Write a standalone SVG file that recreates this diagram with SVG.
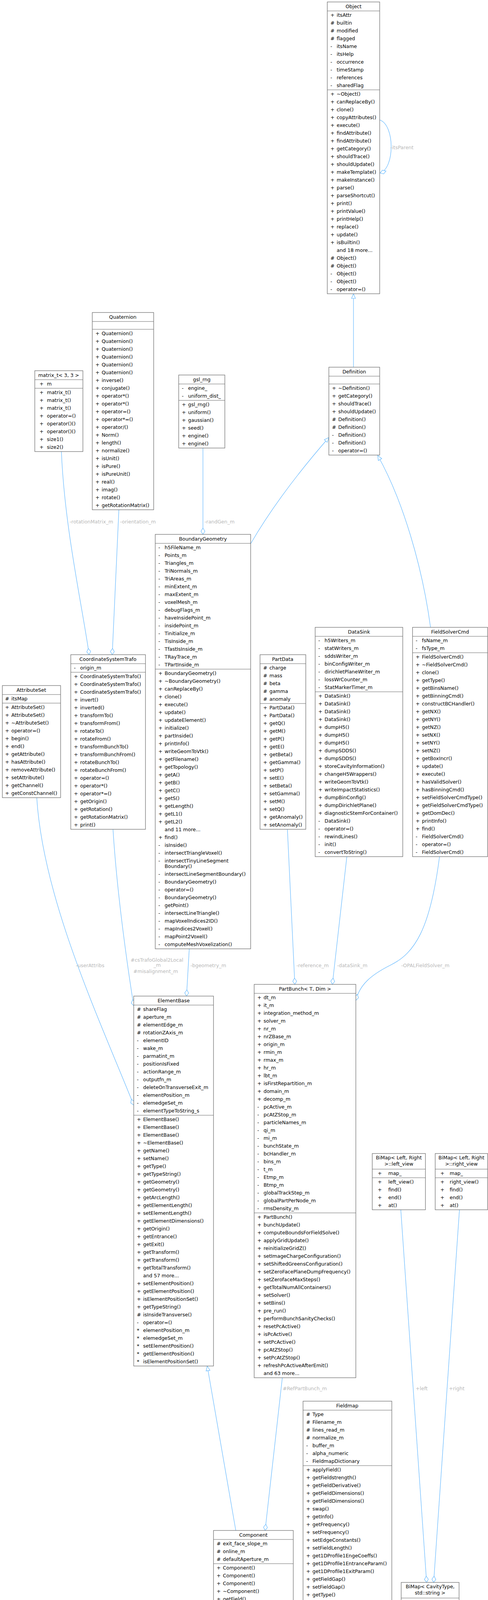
<svg xmlns="http://www.w3.org/2000/svg" width="1248" height="6941" viewBox="0 0 1248 6941">
<style>
.b{fill:#fff;stroke:#666;stroke-width:1.2}
.g{fill:#999;stroke:#666;stroke-width:1.2}
.s{stroke:#666;stroke-width:1}
text{font-family:"DejaVu Sans","Liberation Sans",sans-serif;font-size:12.5px;fill:#000}
.c{text-anchor:middle}
.l{fill:#b8b8b8}
.e{fill:none;stroke:#63b8ff;stroke-width:1.2}
</style>
<defs>
<marker id="tri" markerUnits="userSpaceOnUse" markerWidth="14" markerHeight="12" refX="13" refY="6" orient="auto"><path d="M1,1 L13,6 L1,11 z" fill="#fff" stroke="#63b8ff" stroke-width="1.2"/></marker>
<marker id="dia" markerUnits="userSpaceOnUse" markerWidth="18" markerHeight="12" refX="17" refY="6" orient="auto"><path d="M1,6 L9,1 L17,6 L9,11 z" fill="#fff" stroke="#63b8ff" stroke-width="1.2"/></marker>
</defs>
<g id="connectors">
<path class="e" d="M971,307 C1010,320 1010,430 972,443" marker-end="url(#dia)"/>
<path class="e" d="M904,940 L904,752" marker-end="url(#tri)"/>
<path class="e" d="M641,1392 C700,1290 780,1190 841,1120" marker-end="url(#tri)"/>
<path class="e" d="M1101,1606 C1080,1450 1030,1280 966,1166" marker-end="url(#tri)"/>
<path class="e" d="M157,1156 C165,1350 210,1550 228,1676" marker-end="url(#dia)"/>
<path class="e" d="M304,1305 L287,1676" marker-end="url(#dia)"/>
<path class="e" d="M519,1147 L519,1368" marker-end="url(#dia)"/>
<path class="e" d="M94,2042 C110,2300 250,2600 342,2829" marker-end="url(#dia)"/>
<path class="e" d="M289,2123 C300,2300 330,2500 342,2575" marker-end="url(#dia)"/>
<path class="e" d="M484,2429 L477,2550" marker-end="url(#dia)"/>
<path class="e" d="M735,2123 L754,2520" marker-end="url(#dia)"/>
<path class="e" d="M887,2193 L850,2520" marker-end="url(#dia)"/>
<path class="e" d="M1124,2193 C1100,2380 1060,2440 1000,2470 C950,2495 920,2520 910,2561" marker-end="url(#dia)"/>
<path class="e" d="M722,3527 L678,3918" marker-end="url(#dia)"/>
<path class="e" d="M603,3918 L530,3497" marker-end="url(#tri)"/>
<path class="e" d="M1025,3097 L1091,4051" marker-end="url(#dia)"/>
<path class="e" d="M1175,3097 L1109,4051" marker-end="url(#dia)"/>
<path class="e" d="M888,4754 L888,4816" marker-end="url(#dia)"/>
<path class="e" d="M1083,4295 L968,4991" marker-end="url(#dia)"/>
<path class="e" d="M810,4989 L700,4425" marker-end="url(#tri)"/>
<path class="e" d="M886,6011 L886,5963" marker-end="url(#tri)"/>
<text class="l" x="998" y="382">-itsParent</text>
<text class="l" x="178" y="1340">-rotationMatrix_m</text>
<text class="l" x="307" y="1340">-orientation_m</text>
<text class="l" x="523" y="1340">-randGen_m</text>
<text class="l" x="194" y="2476">-userAttribs</text>
<text class="l" x="334" y="2462">#csTrafoGlobal2Local</text>
<text class="l c" x="402" y="2475">_m</text>
<text class="l" x="341" y="2491">#misalignment_m</text>
<text class="l" x="487" y="2476">-bgeometry_m</text>
<text class="l" x="758" y="2476">-reference_m</text>
<text class="l" x="862" y="2476">-dataSink_m</text>
<text class="l" x="1026" y="2476">-OPALFieldSolver_m</text>
<text class="l" x="723" y="3559">#RefPartBunch_m</text>
<text class="l" x="1063" y="3559">+left</text>
<text class="l" x="1148" y="3559">+right</text>
<text class="l" x="893" y="4788">#fieldmap_m</text>
<text class="l" x="1010" y="4788">-bmCavityTypeString_s</text>
</g>

<g id="Object">
<rect class="b" x="837" y="5" width="134" height="747"/>
<line class="s" x1="837" y1="28" x2="971" y2="28"/><line class="s" x1="837" y1="230" x2="971" y2="230"/>
<text class="c" x="904" y="21">Object</text>
<text y="43"><tspan x="845">+</tspan><tspan x="845" dy="20">#</tspan><tspan x="845" dy="20">#</tspan><tspan x="845" dy="20">#</tspan><tspan x="845" dy="20">-</tspan><tspan x="845" dy="20">-</tspan><tspan x="845" dy="20">-</tspan><tspan x="845" dy="20">-</tspan><tspan x="845" dy="20">-</tspan><tspan x="845" dy="20">-</tspan></text>
<text y="43"><tspan x="861">itsAttr</tspan><tspan x="861" dy="20">builtin</tspan><tspan x="861" dy="20">modified</tspan><tspan x="861" dy="20">flagged</tspan><tspan x="861" dy="20">itsName</tspan><tspan x="861" dy="20">itsHelp</tspan><tspan x="861" dy="20">occurrence</tspan><tspan x="861" dy="20">timeStamp</tspan><tspan x="861" dy="20">references</tspan><tspan x="861" dy="20">sharedFlag</tspan></text>
<text y="245"><tspan x="845">+</tspan><tspan x="845" dy="20">+</tspan><tspan x="845" dy="20">+</tspan><tspan x="845" dy="20">+</tspan><tspan x="845" dy="20">+</tspan><tspan x="845" dy="20">+</tspan><tspan x="845" dy="20">+</tspan><tspan x="845" dy="20">+</tspan><tspan x="845" dy="20">+</tspan><tspan x="845" dy="20">+</tspan><tspan x="845" dy="20">+</tspan><tspan x="845" dy="20">+</tspan><tspan x="845" dy="20">+</tspan><tspan x="845" dy="20">+</tspan><tspan x="845" dy="20">+</tspan><tspan x="845" dy="20">+</tspan><tspan x="845" dy="20">+</tspan><tspan x="845" dy="20">+</tspan><tspan x="845" dy="20">+</tspan><tspan x="845" dy="20">+</tspan><tspan x="845" dy="40">#</tspan><tspan x="845" dy="20">#</tspan><tspan x="845" dy="20">-</tspan><tspan x="845" dy="20">-</tspan><tspan x="845" dy="20">-</tspan></text>
<text y="245"><tspan x="861">~Object()</tspan><tspan x="861" dy="20">canReplaceBy()</tspan><tspan x="861" dy="20">clone()</tspan><tspan x="861" dy="20">copyAttributes()</tspan><tspan x="861" dy="20">execute()</tspan><tspan x="861" dy="20">findAttribute()</tspan><tspan x="861" dy="20">findAttribute()</tspan><tspan x="861" dy="20">getCategory()</tspan><tspan x="861" dy="20">shouldTrace()</tspan><tspan x="861" dy="20">shouldUpdate()</tspan><tspan x="861" dy="20">makeTemplate()</tspan><tspan x="861" dy="20">makeInstance()</tspan><tspan x="861" dy="20">parse()</tspan><tspan x="861" dy="20">parseShortcut()</tspan><tspan x="861" dy="20">print()</tspan><tspan x="861" dy="20">printValue()</tspan><tspan x="861" dy="20">printHelp()</tspan><tspan x="861" dy="20">replace()</tspan><tspan x="861" dy="20">update()</tspan><tspan x="861" dy="20">isBuiltin()</tspan><tspan x="861" dy="20">and 18 more...</tspan><tspan x="861" dy="20">Object()</tspan><tspan x="861" dy="20">Object()</tspan><tspan x="861" dy="20">Object()</tspan><tspan x="861" dy="20">Object()</tspan><tspan x="861" dy="20">operator=()</tspan></text>
</g>

<g id="Definition">
<rect class="b" x="841" y="940" width="130" height="225"/>
<line class="s" x1="841" y1="963" x2="971" y2="963"/><line class="s" x1="841" y1="983" x2="971" y2="983"/>
<text class="c" x="906" y="956">Definition</text>
<text y="998"><tspan x="849">+</tspan><tspan x="849" dy="20">+</tspan><tspan x="849" dy="20">+</tspan><tspan x="849" dy="20">+</tspan><tspan x="849" dy="20">#</tspan><tspan x="849" dy="20">#</tspan><tspan x="849" dy="20">-</tspan><tspan x="849" dy="20">-</tspan><tspan x="849" dy="20">-</tspan></text>
<text y="998"><tspan x="865">~Definition()</tspan><tspan x="865" dy="20">getCategory()</tspan><tspan x="865" dy="20">shouldTrace()</tspan><tspan x="865" dy="20">shouldUpdate()</tspan><tspan x="865" dy="20">Definition()</tspan><tspan x="865" dy="20">Definition()</tspan><tspan x="865" dy="20">Definition()</tspan><tspan x="865" dy="20">Definition()</tspan><tspan x="865" dy="20">operator=()</tspan></text>
</g>

<g id="matrix_t">
<rect class="b" x="89" y="949" width="123" height="207"/>
<line class="s" x1="89" y1="972" x2="212" y2="972"/><line class="s" x1="89" y1="994" x2="212" y2="994"/>
<text class="c" x="150" y="965">matrix_t&lt; 3, 3 &gt;</text>
<text x="101" y="987">+</text><text x="120" y="987">m</text>
<text y="1009"><tspan x="101">+</tspan><tspan x="101" dy="20">+</tspan><tspan x="101" dy="20">+</tspan><tspan x="101" dy="20">+</tspan><tspan x="101" dy="20">+</tspan><tspan x="101" dy="20">+</tspan><tspan x="101" dy="20">+</tspan><tspan x="101" dy="20">+</tspan></text>
<text y="1009"><tspan x="120">matrix_t()</tspan><tspan x="120" dy="20">matrix_t()</tspan><tspan x="120" dy="20">matrix_t()</tspan><tspan x="120" dy="20">operator=()</tspan><tspan x="120" dy="20">operator()()</tspan><tspan x="120" dy="20">operator()()</tspan><tspan x="120" dy="20">size1()</tspan><tspan x="120" dy="20">size2()</tspan></text>
</g>

<g id="Quaternion">
<rect class="b" x="236" y="800" width="157" height="505"/>
<line class="s" x1="236" y1="823" x2="393" y2="823"/><line class="s" x1="236" y1="843" x2="393" y2="843"/>
<text class="c" x="314" y="816">Quaternion</text>
<text y="858"><tspan x="244">+</tspan><tspan x="244" dy="20">+</tspan><tspan x="244" dy="20">+</tspan><tspan x="244" dy="20">+</tspan><tspan x="244" dy="20">+</tspan><tspan x="244" dy="20">+</tspan><tspan x="244" dy="20">+</tspan><tspan x="244" dy="20">+</tspan><tspan x="244" dy="20">+</tspan><tspan x="244" dy="20">+</tspan><tspan x="244" dy="20">+</tspan><tspan x="244" dy="20">+</tspan><tspan x="244" dy="20">+</tspan><tspan x="244" dy="20">+</tspan><tspan x="244" dy="20">+</tspan><tspan x="244" dy="20">+</tspan><tspan x="244" dy="20">+</tspan><tspan x="244" dy="20">+</tspan><tspan x="244" dy="20">+</tspan><tspan x="244" dy="20">+</tspan><tspan x="244" dy="20">+</tspan><tspan x="244" dy="20">+</tspan><tspan x="244" dy="20">+</tspan></text>
<text y="858"><tspan x="260">Quaternion()</tspan><tspan x="260" dy="20">Quaternion()</tspan><tspan x="260" dy="20">Quaternion()</tspan><tspan x="260" dy="20">Quaternion()</tspan><tspan x="260" dy="20">Quaternion()</tspan><tspan x="260" dy="20">Quaternion()</tspan><tspan x="260" dy="20">inverse()</tspan><tspan x="260" dy="20">conjugate()</tspan><tspan x="260" dy="20">operator*()</tspan><tspan x="260" dy="20">operator*()</tspan><tspan x="260" dy="20">operator=()</tspan><tspan x="260" dy="20">operator*=()</tspan><tspan x="260" dy="20">operator/()</tspan><tspan x="260" dy="20">Norm()</tspan><tspan x="260" dy="20">length()</tspan><tspan x="260" dy="20">normalize()</tspan><tspan x="260" dy="20">isUnit()</tspan><tspan x="260" dy="20">isPure()</tspan><tspan x="260" dy="20">isPureUnit()</tspan><tspan x="260" dy="20">real()</tspan><tspan x="260" dy="20">imag()</tspan><tspan x="260" dy="20">rotate()</tspan><tspan x="260" dy="20">getRotationMatrix()</tspan></text>
</g>

<g id="gsl_rng">
<rect class="b" x="457" y="960" width="118" height="187"/>
<line class="s" x1="457" y1="983" x2="575" y2="983"/><line class="s" x1="457" y1="1025" x2="575" y2="1025"/>
<text class="c" x="516" y="976">gsl_rng</text>
<text y="998"><tspan x="465">-</tspan><tspan x="465" dy="20">-</tspan></text>
<text y="998"><tspan x="481">engine_</tspan><tspan x="481" dy="20">uniform_dist_</tspan></text>
<text y="1040"><tspan x="465">+</tspan><tspan x="465" dy="20">+</tspan><tspan x="465" dy="20">+</tspan><tspan x="465" dy="20">+</tspan><tspan x="465" dy="20">+</tspan><tspan x="465" dy="20">+</tspan></text>
<text y="1040"><tspan x="481">gsl_rng()</tspan><tspan x="481" dy="20">uniform()</tspan><tspan x="481" dy="20">gaussian()</tspan><tspan x="481" dy="20">seed()</tspan><tspan x="481" dy="20">engine()</tspan><tspan x="481" dy="20">engine()</tspan></text>
</g>

<g id="BoundaryGeometry">
<rect class="b" x="397" y="1368" width="244" height="1061"/>
<line class="s" x1="397" y1="1391" x2="641" y2="1391"/><line class="s" x1="397" y1="1713" x2="641" y2="1713"/>
<text class="c" x="519" y="1384">BoundaryGeometry</text>
<text y="1406"><tspan x="405">-</tspan><tspan x="405" dy="20">-</tspan><tspan x="405" dy="20">-</tspan><tspan x="405" dy="20">-</tspan><tspan x="405" dy="20">-</tspan><tspan x="405" dy="20">-</tspan><tspan x="405" dy="20">-</tspan><tspan x="405" dy="20">-</tspan><tspan x="405" dy="20">-</tspan><tspan x="405" dy="20">-</tspan><tspan x="405" dy="20">-</tspan><tspan x="405" dy="20">-</tspan><tspan x="405" dy="20">-</tspan><tspan x="405" dy="20">-</tspan><tspan x="405" dy="20">-</tspan><tspan x="405" dy="20">-</tspan></text>
<text y="1406"><tspan x="421">h5FileName_m</tspan><tspan x="421" dy="20">Points_m</tspan><tspan x="421" dy="20">Triangles_m</tspan><tspan x="421" dy="20">TriNormals_m</tspan><tspan x="421" dy="20">TriAreas_m</tspan><tspan x="421" dy="20">minExtent_m</tspan><tspan x="421" dy="20">maxExtent_m</tspan><tspan x="421" dy="20">voxelMesh_m</tspan><tspan x="421" dy="20">debugFlags_m</tspan><tspan x="421" dy="20">haveInsidePoint_m</tspan><tspan x="421" dy="20">insidePoint_m</tspan><tspan x="421" dy="20">Tinitialize_m</tspan><tspan x="421" dy="20">TisInside_m</tspan><tspan x="421" dy="20">TfastIsInside_m</tspan><tspan x="421" dy="20">TRayTrace_m</tspan><tspan x="421" dy="20">TPartInside_m</tspan></text>
<text y="1728"><tspan x="405">+</tspan><tspan x="405" dy="20">+</tspan><tspan x="405" dy="20">+</tspan><tspan x="405" dy="20">+</tspan><tspan x="405" dy="20">+</tspan><tspan x="405" dy="20">+</tspan><tspan x="405" dy="20">+</tspan><tspan x="405" dy="20">+</tspan><tspan x="405" dy="20">+</tspan><tspan x="405" dy="20">+</tspan><tspan x="405" dy="20">+</tspan><tspan x="405" dy="20">+</tspan><tspan x="405" dy="20">+</tspan><tspan x="405" dy="20">+</tspan><tspan x="405" dy="20">+</tspan><tspan x="405" dy="20">+</tspan><tspan x="405" dy="20">+</tspan><tspan x="405" dy="20">+</tspan><tspan x="405" dy="20">+</tspan><tspan x="405" dy="20">+</tspan><tspan x="405" dy="40">+</tspan><tspan x="405" dy="20">-</tspan><tspan x="405" dy="20">-</tspan><tspan x="405" dy="20">-</tspan><tspan x="405" dy="34">-</tspan><tspan x="405" dy="20">-</tspan><tspan x="405" dy="20">-</tspan><tspan x="405" dy="20">-</tspan><tspan x="405" dy="20">-</tspan><tspan x="405" dy="20">-</tspan><tspan x="405" dy="20">-</tspan><tspan x="405" dy="20">-</tspan><tspan x="405" dy="20">-</tspan><tspan x="405" dy="20">-</tspan></text>
<text y="1728"><tspan x="421">BoundaryGeometry()</tspan><tspan x="421" dy="20">~BoundaryGeometry()</tspan><tspan x="421" dy="20">canReplaceBy()</tspan><tspan x="421" dy="20">clone()</tspan><tspan x="421" dy="20">execute()</tspan><tspan x="421" dy="20">update()</tspan><tspan x="421" dy="20">updateElement()</tspan><tspan x="421" dy="20">initialize()</tspan><tspan x="421" dy="20">partInside()</tspan><tspan x="421" dy="20">printInfo()</tspan><tspan x="421" dy="20">writeGeomToVtk()</tspan><tspan x="421" dy="20">getFilename()</tspan><tspan x="421" dy="20">getTopology()</tspan><tspan x="421" dy="20">getA()</tspan><tspan x="421" dy="20">getB()</tspan><tspan x="421" dy="20">getC()</tspan><tspan x="421" dy="20">getS()</tspan><tspan x="421" dy="20">getLength()</tspan><tspan x="421" dy="20">getL1()</tspan><tspan x="421" dy="20">getL2()</tspan><tspan x="421" dy="20">and 11 more...</tspan><tspan x="421" dy="20">find()</tspan><tspan x="421" dy="20">isInside()</tspan><tspan x="421" dy="20">intersectTriangleVoxel()</tspan><tspan x="421" dy="20">intersectTinyLineSegment</tspan><tspan x="421" dy="14">Boundary()</tspan><tspan x="421" dy="20">intersectLineSegmentBoundary()</tspan><tspan x="421" dy="20">BoundaryGeometry()</tspan><tspan x="421" dy="20">operator=()</tspan><tspan x="421" dy="20">BoundaryGeometry()</tspan><tspan x="421" dy="20">getPoint()</tspan><tspan x="421" dy="20">intersectLineTriangle()</tspan><tspan x="421" dy="20">mapVoxelIndices2ID()</tspan><tspan x="421" dy="20">mapIndices2Voxel()</tspan><tspan x="421" dy="20">mapPoint2Voxel()</tspan><tspan x="421" dy="20">computeMeshVoxelization()</tspan></text>
</g>

<g id="CoordinateSystemTrafo">
<rect class="b" x="181" y="1676" width="191" height="447"/>
<line class="s" x1="181" y1="1699" x2="372" y2="1699"/><line class="s" x1="181" y1="1721" x2="372" y2="1721"/>
<text class="c" x="276" y="1692">CoordinateSystemTrafo</text>
<text x="189" y="1714">-</text><text x="205" y="1714">origin_m</text>
<text y="1736"><tspan x="189">+</tspan><tspan x="189" dy="20">+</tspan><tspan x="189" dy="20">+</tspan><tspan x="189" dy="20">+</tspan><tspan x="189" dy="20">+</tspan><tspan x="189" dy="20">+</tspan><tspan x="189" dy="20">+</tspan><tspan x="189" dy="20">+</tspan><tspan x="189" dy="20">+</tspan><tspan x="189" dy="20">+</tspan><tspan x="189" dy="20">+</tspan><tspan x="189" dy="20">+</tspan><tspan x="189" dy="20">+</tspan><tspan x="189" dy="20">+</tspan><tspan x="189" dy="20">+</tspan><tspan x="189" dy="20">+</tspan><tspan x="189" dy="20">+</tspan><tspan x="189" dy="20">+</tspan><tspan x="189" dy="20">+</tspan><tspan x="189" dy="20">+</tspan></text>
<text y="1736"><tspan x="205">CoordinateSystemTrafo()</tspan><tspan x="205" dy="20">CoordinateSystemTrafo()</tspan><tspan x="205" dy="20">CoordinateSystemTrafo()</tspan><tspan x="205" dy="20">invert()</tspan><tspan x="205" dy="20">inverted()</tspan><tspan x="205" dy="20">transformTo()</tspan><tspan x="205" dy="20">transformFrom()</tspan><tspan x="205" dy="20">rotateTo()</tspan><tspan x="205" dy="20">rotateFrom()</tspan><tspan x="205" dy="20">transformBunchTo()</tspan><tspan x="205" dy="20">transformBunchFrom()</tspan><tspan x="205" dy="20">rotateBunchTo()</tspan><tspan x="205" dy="20">rotateBunchFrom()</tspan><tspan x="205" dy="20">operator=()</tspan><tspan x="205" dy="20">operator*()</tspan><tspan x="205" dy="20">operator*=()</tspan><tspan x="205" dy="20">getOrigin()</tspan><tspan x="205" dy="20">getRotation()</tspan><tspan x="205" dy="20">getRotationMatrix()</tspan><tspan x="205" dy="20">print()</tspan></text>
</g>

<g id="AttributeSet">
<rect class="b" x="6" y="1755" width="149" height="287"/>
<line class="s" x1="6" y1="1778" x2="155" y2="1778"/><line class="s" x1="6" y1="1800" x2="155" y2="1800"/>
<text class="c" x="80" y="1771">AttributeSet</text>
<text x="13" y="1793">#</text><text x="29" y="1793">itsMap</text>
<text y="1815"><tspan x="13">+</tspan><tspan x="13" dy="20">+</tspan><tspan x="13" dy="20">+</tspan><tspan x="13" dy="20">+</tspan><tspan x="13" dy="20">+</tspan><tspan x="13" dy="20">+</tspan><tspan x="13" dy="20">+</tspan><tspan x="13" dy="20">+</tspan><tspan x="13" dy="20">+</tspan><tspan x="13" dy="20">+</tspan><tspan x="13" dy="20">+</tspan><tspan x="13" dy="20">+</tspan></text>
<text y="1815"><tspan x="29">AttributeSet()</tspan><tspan x="29" dy="20">AttributeSet()</tspan><tspan x="29" dy="20">~AttributeSet()</tspan><tspan x="29" dy="20">operator=()</tspan><tspan x="29" dy="20">begin()</tspan><tspan x="29" dy="20">end()</tspan><tspan x="29" dy="20">getAttribute()</tspan><tspan x="29" dy="20">hasAttribute()</tspan><tspan x="29" dy="20">removeAttribute()</tspan><tspan x="29" dy="20">setAttribute()</tspan><tspan x="29" dy="20">getChannel()</tspan><tspan x="29" dy="20">getConstChannel()</tspan></text>
</g>

<g id="PartData">
<rect class="b" x="665" y="1676" width="117" height="447"/>
<line class="s" x1="665" y1="1699" x2="782" y2="1699"/><line class="s" x1="665" y1="1801" x2="782" y2="1801"/>
<text class="c" x="723" y="1692">PartData</text>
<text y="1714"><tspan x="673">#</tspan><tspan x="673" dy="20">#</tspan><tspan x="673" dy="20">#</tspan><tspan x="673" dy="20">#</tspan><tspan x="673" dy="20">#</tspan></text>
<text y="1714"><tspan x="689">charge</tspan><tspan x="689" dy="20">mass</tspan><tspan x="689" dy="20">beta</tspan><tspan x="689" dy="20">gamma</tspan><tspan x="689" dy="20">anomaly</tspan></text>
<text y="1816"><tspan x="673">+</tspan><tspan x="673" dy="20">+</tspan><tspan x="673" dy="20">+</tspan><tspan x="673" dy="20">+</tspan><tspan x="673" dy="20">+</tspan><tspan x="673" dy="20">+</tspan><tspan x="673" dy="20">+</tspan><tspan x="673" dy="20">+</tspan><tspan x="673" dy="20">+</tspan><tspan x="673" dy="20">+</tspan><tspan x="673" dy="20">+</tspan><tspan x="673" dy="20">+</tspan><tspan x="673" dy="20">+</tspan><tspan x="673" dy="20">+</tspan><tspan x="673" dy="20">+</tspan><tspan x="673" dy="20">+</tspan></text>
<text y="1816"><tspan x="689">PartData()</tspan><tspan x="689" dy="20">PartData()</tspan><tspan x="689" dy="20">getQ()</tspan><tspan x="689" dy="20">getM()</tspan><tspan x="689" dy="20">getP()</tspan><tspan x="689" dy="20">getE()</tspan><tspan x="689" dy="20">getBeta()</tspan><tspan x="689" dy="20">getGamma()</tspan><tspan x="689" dy="20">setP()</tspan><tspan x="689" dy="20">setE()</tspan><tspan x="689" dy="20">setBeta()</tspan><tspan x="689" dy="20">setGamma()</tspan><tspan x="689" dy="20">setM()</tspan><tspan x="689" dy="20">setQ()</tspan><tspan x="689" dy="20">getAnomaly()</tspan><tspan x="689" dy="20">setAnomaly()</tspan></text>
</g>

<g id="DataSink">
<rect class="b" x="806" y="1606" width="224" height="587"/>
<line class="s" x1="806" y1="1629" x2="1030" y2="1629"/><line class="s" x1="806" y1="1771" x2="1030" y2="1771"/>
<text class="c" x="918" y="1622">DataSink</text>
<text y="1644"><tspan x="814">-</tspan><tspan x="814" dy="20">-</tspan><tspan x="814" dy="20">-</tspan><tspan x="814" dy="20">-</tspan><tspan x="814" dy="20">-</tspan><tspan x="814" dy="20">-</tspan><tspan x="814" dy="20">-</tspan></text>
<text y="1644"><tspan x="830">h5Writers_m</tspan><tspan x="830" dy="20">statWriters_m</tspan><tspan x="830" dy="20">sddsWriter_m</tspan><tspan x="830" dy="20">binConfigWriter_m</tspan><tspan x="830" dy="20">dirichletPlaneWriter_m</tspan><tspan x="830" dy="20">lossWrCounter_m</tspan><tspan x="830" dy="20">StatMarkerTimer_m</tspan></text>
<text y="1786"><tspan x="814">+</tspan><tspan x="814" dy="20">+</tspan><tspan x="814" dy="20">+</tspan><tspan x="814" dy="20">+</tspan><tspan x="814" dy="20">+</tspan><tspan x="814" dy="20">+</tspan><tspan x="814" dy="20">+</tspan><tspan x="814" dy="20">+</tspan><tspan x="814" dy="20">+</tspan><tspan x="814" dy="20">+</tspan><tspan x="814" dy="20">+</tspan><tspan x="814" dy="20">+</tspan><tspan x="814" dy="20">+</tspan><tspan x="814" dy="20">+</tspan><tspan x="814" dy="20">+</tspan><tspan x="814" dy="20">+</tspan><tspan x="814" dy="20">-</tspan><tspan x="814" dy="20">-</tspan><tspan x="814" dy="20">-</tspan><tspan x="814" dy="20">-</tspan><tspan x="814" dy="20">-</tspan></text>
<text y="1786"><tspan x="830">DataSink()</tspan><tspan x="830" dy="20">DataSink()</tspan><tspan x="830" dy="20">DataSink()</tspan><tspan x="830" dy="20">DataSink()</tspan><tspan x="830" dy="20">dumpH5()</tspan><tspan x="830" dy="20">dumpH5()</tspan><tspan x="830" dy="20">dumpH5()</tspan><tspan x="830" dy="20">dumpSDDS()</tspan><tspan x="830" dy="20">dumpSDDS()</tspan><tspan x="830" dy="20">storeCavityInformation()</tspan><tspan x="830" dy="20">changeH5Wrappers()</tspan><tspan x="830" dy="20">writeGeomToVtk()</tspan><tspan x="830" dy="20">writeImpactStatistics()</tspan><tspan x="830" dy="20">dumpBinConfig()</tspan><tspan x="830" dy="20">dumpDirichletPlane()</tspan><tspan x="830" dy="20">diagnosticStemForContainer()</tspan><tspan x="830" dy="20">DataSink()</tspan><tspan x="830" dy="20">operator=()</tspan><tspan x="830" dy="20">rewindLines()</tspan><tspan x="830" dy="20">init()</tspan><tspan x="830" dy="20">convertToString()</tspan></text>
</g>

<g id="FieldSolverCmd">
<rect class="b" x="1055" y="1606" width="192" height="587"/>
<line class="s" x1="1055" y1="1629" x2="1247" y2="1629"/><line class="s" x1="1055" y1="1671" x2="1247" y2="1671"/>
<text class="c" x="1151" y="1622">FieldSolverCmd</text>
<text y="1644"><tspan x="1063">-</tspan><tspan x="1063" dy="20">-</tspan></text>
<text y="1644"><tspan x="1079">fsName_m</tspan><tspan x="1079" dy="20">fsType_m</tspan></text>
<text y="1686"><tspan x="1063">+</tspan><tspan x="1063" dy="20">+</tspan><tspan x="1063" dy="20">+</tspan><tspan x="1063" dy="20">+</tspan><tspan x="1063" dy="20">+</tspan><tspan x="1063" dy="20">+</tspan><tspan x="1063" dy="20">+</tspan><tspan x="1063" dy="20">+</tspan><tspan x="1063" dy="20">+</tspan><tspan x="1063" dy="20">+</tspan><tspan x="1063" dy="20">+</tspan><tspan x="1063" dy="20">+</tspan><tspan x="1063" dy="20">+</tspan><tspan x="1063" dy="20">+</tspan><tspan x="1063" dy="20">+</tspan><tspan x="1063" dy="20">+</tspan><tspan x="1063" dy="20">+</tspan><tspan x="1063" dy="20">+</tspan><tspan x="1063" dy="20">+</tspan><tspan x="1063" dy="20">+</tspan><tspan x="1063" dy="20">+</tspan><tspan x="1063" dy="20">+</tspan><tspan x="1063" dy="20">+</tspan><tspan x="1063" dy="20">-</tspan><tspan x="1063" dy="20">-</tspan><tspan x="1063" dy="20">-</tspan></text>
<text y="1686"><tspan x="1079">FieldSolverCmd()</tspan><tspan x="1079" dy="20">~FieldSolverCmd()</tspan><tspan x="1079" dy="20">clone()</tspan><tspan x="1079" dy="20">getType()</tspan><tspan x="1079" dy="20">getBinsName()</tspan><tspan x="1079" dy="20">getBinningCmd()</tspan><tspan x="1079" dy="20">constructBCHandler()</tspan><tspan x="1079" dy="20">getNX()</tspan><tspan x="1079" dy="20">getNY()</tspan><tspan x="1079" dy="20">getNZ()</tspan><tspan x="1079" dy="20">setNX()</tspan><tspan x="1079" dy="20">setNY()</tspan><tspan x="1079" dy="20">setNZ()</tspan><tspan x="1079" dy="20">getBoxIncr()</tspan><tspan x="1079" dy="20">update()</tspan><tspan x="1079" dy="20">execute()</tspan><tspan x="1079" dy="20">hasValidSolver()</tspan><tspan x="1079" dy="20">hasBinningCmd()</tspan><tspan x="1079" dy="20">setFieldSolverCmdType()</tspan><tspan x="1079" dy="20">getFieldSolverCmdType()</tspan><tspan x="1079" dy="20">getDomDec()</tspan><tspan x="1079" dy="20">printInfo()</tspan><tspan x="1079" dy="20">find()</tspan><tspan x="1079" dy="20">FieldSolverCmd()</tspan><tspan x="1079" dy="20">operator=()</tspan><tspan x="1079" dy="20">FieldSolverCmd()</tspan></text>
</g>

<g id="ElementBase">
<rect class="b" x="342" y="2550" width="204" height="947"/>
<line class="s" x1="342" y1="2573" x2="546" y2="2573"/><line class="s" x1="342" y1="2855" x2="546" y2="2855"/>
<text class="c" x="444" y="2566">ElementBase</text>
<text y="2588"><tspan x="350">#</tspan><tspan x="350" dy="20">#</tspan><tspan x="350" dy="20">#</tspan><tspan x="350" dy="20">#</tspan><tspan x="350" dy="20">-</tspan><tspan x="350" dy="20">-</tspan><tspan x="350" dy="20">-</tspan><tspan x="350" dy="20">-</tspan><tspan x="350" dy="20">-</tspan><tspan x="350" dy="20">-</tspan><tspan x="350" dy="20">-</tspan><tspan x="350" dy="20">-</tspan><tspan x="350" dy="20">-</tspan><tspan x="350" dy="20">-</tspan></text>
<text y="2588"><tspan x="366">shareFlag</tspan><tspan x="366" dy="20">aperture_m</tspan><tspan x="366" dy="20">elementEdge_m</tspan><tspan x="366" dy="20">rotationZAxis_m</tspan><tspan x="366" dy="20">elementID</tspan><tspan x="366" dy="20">wake_m</tspan><tspan x="366" dy="20">parmatint_m</tspan><tspan x="366" dy="20">positionIsFixed</tspan><tspan x="366" dy="20">actionRange_m</tspan><tspan x="366" dy="20">outputfn_m</tspan><tspan x="366" dy="20">deleteOnTransverseExit_m</tspan><tspan x="366" dy="20">elementPosition_m</tspan><tspan x="366" dy="20">elemedgeSet_m</tspan><tspan x="366" dy="20">elementTypeToString_s</tspan></text>
<text y="2870"><tspan x="350">+</tspan><tspan x="350" dy="20">+</tspan><tspan x="350" dy="20">+</tspan><tspan x="350" dy="20">+</tspan><tspan x="350" dy="20">+</tspan><tspan x="350" dy="20">+</tspan><tspan x="350" dy="20">+</tspan><tspan x="350" dy="20">+</tspan><tspan x="350" dy="20">+</tspan><tspan x="350" dy="20">+</tspan><tspan x="350" dy="20">+</tspan><tspan x="350" dy="20">+</tspan><tspan x="350" dy="20">+</tspan><tspan x="350" dy="20">+</tspan><tspan x="350" dy="20">+</tspan><tspan x="350" dy="20">+</tspan><tspan x="350" dy="20">+</tspan><tspan x="350" dy="20">+</tspan><tspan x="350" dy="20">+</tspan><tspan x="350" dy="20">+</tspan><tspan x="350" dy="40">+</tspan><tspan x="350" dy="20">+</tspan><tspan x="350" dy="20">+</tspan><tspan x="350" dy="20">+</tspan><tspan x="350" dy="20">#</tspan><tspan x="350" dy="20">-</tspan><tspan x="350" dy="20">*</tspan><tspan x="350" dy="20">*</tspan><tspan x="350" dy="20">*</tspan><tspan x="350" dy="20">*</tspan><tspan x="350" dy="20">*</tspan></text>
<text y="2870"><tspan x="366">ElementBase()</tspan><tspan x="366" dy="20">ElementBase()</tspan><tspan x="366" dy="20">ElementBase()</tspan><tspan x="366" dy="20">~ElementBase()</tspan><tspan x="366" dy="20">getName()</tspan><tspan x="366" dy="20">setName()</tspan><tspan x="366" dy="20">getType()</tspan><tspan x="366" dy="20">getTypeString()</tspan><tspan x="366" dy="20">getGeometry()</tspan><tspan x="366" dy="20">getGeometry()</tspan><tspan x="366" dy="20">getArcLength()</tspan><tspan x="366" dy="20">getElementLength()</tspan><tspan x="366" dy="20">setElementLength()</tspan><tspan x="366" dy="20">getElementDimensions()</tspan><tspan x="366" dy="20">getOrigin()</tspan><tspan x="366" dy="20">getEntrance()</tspan><tspan x="366" dy="20">getExit()</tspan><tspan x="366" dy="20">getTransform()</tspan><tspan x="366" dy="20">getTransform()</tspan><tspan x="366" dy="20">getTotalTransform()</tspan><tspan x="366" dy="20">and 57 more...</tspan><tspan x="366" dy="20">setElementPosition()</tspan><tspan x="366" dy="20">getElementPosition()</tspan><tspan x="366" dy="20">isElementPositionSet()</tspan><tspan x="366" dy="20">getTypeString()</tspan><tspan x="366" dy="20">isInsideTransverse()</tspan><tspan x="366" dy="20">operator=()</tspan><tspan x="366" dy="20">elementPosition_m</tspan><tspan x="366" dy="20">elemedgeSet_m</tspan><tspan x="366" dy="20">setElementPosition()</tspan><tspan x="366" dy="20">getElementPosition()</tspan><tspan x="366" dy="20">isElementPositionSet()</tspan></text>
</g>

<g id="PartBunch">
<rect class="b" x="650" y="2520" width="260" height="1007"/>
<line class="s" x1="650" y1="2543" x2="910" y2="2543"/><line class="s" x1="650" y1="3105" x2="910" y2="3105"/>
<text class="c" x="780" y="2536">PartBunch&lt; T, Dim &gt;</text>
<text y="2558"><tspan x="658">+</tspan><tspan x="658" dy="20">+</tspan><tspan x="658" dy="20">+</tspan><tspan x="658" dy="20">+</tspan><tspan x="658" dy="20">+</tspan><tspan x="658" dy="20">+</tspan><tspan x="658" dy="20">+</tspan><tspan x="658" dy="20">+</tspan><tspan x="658" dy="20">+</tspan><tspan x="658" dy="20">+</tspan><tspan x="658" dy="20">+</tspan><tspan x="658" dy="20">+</tspan><tspan x="658" dy="20">+</tspan><tspan x="658" dy="20">+</tspan><tspan x="658" dy="20">-</tspan><tspan x="658" dy="20">-</tspan><tspan x="658" dy="20">-</tspan><tspan x="658" dy="20">-</tspan><tspan x="658" dy="20">-</tspan><tspan x="658" dy="20">-</tspan><tspan x="658" dy="20">-</tspan><tspan x="658" dy="20">-</tspan><tspan x="658" dy="20">-</tspan><tspan x="658" dy="20">-</tspan><tspan x="658" dy="20">-</tspan><tspan x="658" dy="20">-</tspan><tspan x="658" dy="20">-</tspan><tspan x="658" dy="20">-</tspan></text>
<text y="2558"><tspan x="674">dt_m</tspan><tspan x="674" dy="20">it_m</tspan><tspan x="674" dy="20">integration_method_m</tspan><tspan x="674" dy="20">solver_m</tspan><tspan x="674" dy="20">nr_m</tspan><tspan x="674" dy="20">nrZBase_m</tspan><tspan x="674" dy="20">origin_m</tspan><tspan x="674" dy="20">rmin_m</tspan><tspan x="674" dy="20">rmax_m</tspan><tspan x="674" dy="20">hr_m</tspan><tspan x="674" dy="20">lbt_m</tspan><tspan x="674" dy="20">isFirstRepartition_m</tspan><tspan x="674" dy="20">domain_m</tspan><tspan x="674" dy="20">decomp_m</tspan><tspan x="674" dy="20">pcActive_m</tspan><tspan x="674" dy="20">pcAtZStop_m</tspan><tspan x="674" dy="20">particleNames_m</tspan><tspan x="674" dy="20">qi_m</tspan><tspan x="674" dy="20">mi_m</tspan><tspan x="674" dy="20">bunchState_m</tspan><tspan x="674" dy="20">bcHandler_m</tspan><tspan x="674" dy="20">bins_m</tspan><tspan x="674" dy="20">t_m</tspan><tspan x="674" dy="20">Etmp_m</tspan><tspan x="674" dy="20">Btmp_m</tspan><tspan x="674" dy="20">globalTrackStep_m</tspan><tspan x="674" dy="20">globalPartPerNode_m</tspan><tspan x="674" dy="20">rmsDensity_m</tspan></text>
<text y="3120"><tspan x="658">+</tspan><tspan x="658" dy="20">+</tspan><tspan x="658" dy="20">+</tspan><tspan x="658" dy="20">+</tspan><tspan x="658" dy="20">+</tspan><tspan x="658" dy="20">+</tspan><tspan x="658" dy="20">+</tspan><tspan x="658" dy="20">+</tspan><tspan x="658" dy="20">+</tspan><tspan x="658" dy="20">+</tspan><tspan x="658" dy="20">+</tspan><tspan x="658" dy="20">+</tspan><tspan x="658" dy="20">+</tspan><tspan x="658" dy="20">+</tspan><tspan x="658" dy="20">+</tspan><tspan x="658" dy="20">+</tspan><tspan x="658" dy="20">+</tspan><tspan x="658" dy="20">+</tspan><tspan x="658" dy="20">+</tspan><tspan x="658" dy="20">+</tspan></text>
<text y="3120"><tspan x="674">PartBunch()</tspan><tspan x="674" dy="20">bunchUpdate()</tspan><tspan x="674" dy="20">computeBoundsForFieldSolve()</tspan><tspan x="674" dy="20">applyGridUpdate()</tspan><tspan x="674" dy="20">reinitializeGridZ()</tspan><tspan x="674" dy="20">setImageChargeConfiguration()</tspan><tspan x="674" dy="20">setShiftedGreensConfiguration()</tspan><tspan x="674" dy="20">setZeroFacePlaneDumpFrequency()</tspan><tspan x="674" dy="20">setZerofaceMaxSteps()</tspan><tspan x="674" dy="20">getTotalNumAllContainers()</tspan><tspan x="674" dy="20">setSolver()</tspan><tspan x="674" dy="20">setBins()</tspan><tspan x="674" dy="20">pre_run()</tspan><tspan x="674" dy="20">performBunchSanityChecks()</tspan><tspan x="674" dy="20">resetPcActive()</tspan><tspan x="674" dy="20">isPcActive()</tspan><tspan x="674" dy="20">setPcActive()</tspan><tspan x="674" dy="20">pcAtZStop()</tspan><tspan x="674" dy="20">setPcAtZStop()</tspan><tspan x="674" dy="20">refreshPcActiveAfterEmit()</tspan><tspan x="674" dy="20">and 63 more...</tspan></text>
</g>

<g id="BiMap_left_view">
<rect class="b" x="952" y="2953" width="136" height="144"/>
<line class="s" x1="952" y1="2993" x2="1088" y2="2993"/><line class="s" x1="952" y1="3015" x2="1088" y2="3015"/>
<text class="c" x="1020" y="2968">BiMap&lt; Left, Right</text><text class="c" x="1020" y="2984">&gt;::left_view</text>
<text x="966" y="3008">+</text><text x="993" y="3008">map_</text>
<text y="3030"><tspan x="966">+</tspan><tspan x="966" dy="20">+</tspan><tspan x="966" dy="20">+</tspan><tspan x="966" dy="20">+</tspan></text>
<text y="3030"><tspan x="993">left_view()</tspan><tspan x="993" dy="20">find()</tspan><tspan x="993" dy="20">end()</tspan><tspan x="993" dy="20">at()</tspan></text>
</g>

<g id="BiMap_right_view">
<rect class="b" x="1113" y="2953" width="134" height="144"/>
<line class="s" x1="1113" y1="2993" x2="1247" y2="2993"/><line class="s" x1="1113" y1="3015" x2="1247" y2="3015"/>
<text class="c" x="1180" y="2968">BiMap&lt; Left, Right</text><text class="c" x="1180" y="2984">&gt;::right_view</text>
<text x="1126" y="3008">+</text><text x="1150" y="3008">map_</text>
<text y="3030"><tspan x="1126">+</tspan><tspan x="1126" dy="20">+</tspan><tspan x="1126" dy="20">+</tspan><tspan x="1126" dy="20">+</tspan></text>
<text y="3030"><tspan x="1150">right_view()</tspan><tspan x="1150" dy="20">find()</tspan><tspan x="1150" dy="20">end()</tspan><tspan x="1150" dy="20">at()</tspan></text>
</g>

<g id="Fieldmap">
<rect class="b" x="775" y="3587" width="227" height="1167"/>
<line class="s" x1="775" y1="3610" x2="1002" y2="3610"/><line class="s" x1="775" y1="3752" x2="1002" y2="3752"/>
<text class="c" x="888" y="3603">Fieldmap</text>
<text y="3625"><tspan x="783">#</tspan><tspan x="783" dy="20">#</tspan><tspan x="783" dy="20">#</tspan><tspan x="783" dy="20">#</tspan><tspan x="783" dy="20">-</tspan><tspan x="783" dy="20">-</tspan><tspan x="783" dy="20">-</tspan></text>
<text y="3625"><tspan x="799">Type</tspan><tspan x="799" dy="20">Filename_m</tspan><tspan x="799" dy="20">lines_read_m</tspan><tspan x="799" dy="20">normalize_m</tspan><tspan x="799" dy="20">buffer_m</tspan><tspan x="799" dy="20">alpha_numeric</tspan><tspan x="799" dy="20">FieldmapDictionary</tspan></text>
<text y="3767"><tspan x="783">+</tspan><tspan x="783" dy="20">+</tspan><tspan x="783" dy="20">+</tspan><tspan x="783" dy="20">+</tspan><tspan x="783" dy="20">+</tspan><tspan x="783" dy="20">+</tspan><tspan x="783" dy="20">+</tspan><tspan x="783" dy="20">+</tspan><tspan x="783" dy="20">+</tspan><tspan x="783" dy="20">+</tspan><tspan x="783" dy="20">+</tspan><tspan x="783" dy="20">+</tspan><tspan x="783" dy="20">+</tspan><tspan x="783" dy="20">+</tspan><tspan x="783" dy="20">+</tspan><tspan x="783" dy="20">+</tspan><tspan x="783" dy="20">+</tspan><tspan x="783" dy="20">+</tspan><tspan x="783" dy="20">+</tspan><tspan x="783" dy="20">+</tspan><tspan x="783" dy="20">+</tspan><tspan x="783" dy="20">+</tspan><tspan x="783" dy="20">+</tspan><tspan x="783" dy="20">+</tspan><tspan x="783" dy="20">+</tspan><tspan x="783" dy="20">+</tspan><tspan x="783" dy="20">+</tspan><tspan x="783" dy="20">+</tspan><tspan x="783" dy="20">+</tspan><tspan x="783" dy="20">+</tspan><tspan x="783" dy="20">#</tspan><tspan x="783" dy="20">#</tspan><tspan x="783" dy="20">#</tspan><tspan x="783" dy="20">#</tspan><tspan x="783" dy="20">#</tspan><tspan x="783" dy="20">#</tspan><tspan x="783" dy="20">#</tspan><tspan x="783" dy="20">#</tspan><tspan x="783" dy="20">#</tspan><tspan x="783" dy="20">#</tspan><tspan x="783" dy="20">#</tspan><tspan x="783" dy="20">#</tspan><tspan x="783" dy="20">#</tspan><tspan x="783" dy="20">#</tspan><tspan x="783" dy="20">#</tspan><tspan x="783" dy="20">#</tspan><tspan x="783" dy="20">#</tspan><tspan x="783" dy="20">#</tspan><tspan x="783" dy="20">#</tspan><tspan x="783" dy="20">#</tspan></text>
<text y="3767"><tspan x="799">applyField()</tspan><tspan x="799" dy="20">getFieldstrength()</tspan><tspan x="799" dy="20">getFieldDerivative()</tspan><tspan x="799" dy="20">getFieldDimensions()</tspan><tspan x="799" dy="20">getFieldDimensions()</tspan><tspan x="799" dy="20">swap()</tspan><tspan x="799" dy="20">getInfo()</tspan><tspan x="799" dy="20">getFrequency()</tspan><tspan x="799" dy="20">setFrequency()</tspan><tspan x="799" dy="20">setEdgeConstants()</tspan><tspan x="799" dy="20">setFieldLength()</tspan><tspan x="799" dy="20">get1DProfile1EngeCoeffs()</tspan><tspan x="799" dy="20">get1DProfile1EntranceParam()</tspan><tspan x="799" dy="20">get1DProfile1ExitParam()</tspan><tspan x="799" dy="20">getFieldGap()</tspan><tspan x="799" dy="20">setFieldGap()</tspan><tspan x="799" dy="20">getType()</tspan><tspan x="799" dy="20">getOnaxisEz()</tspan><tspan x="799" dy="20">isInside()</tspan><tspan x="799" dy="20">readMap()</tspan><tspan x="799" dy="20">freeMap()</tspan><tspan x="799" dy="20">interpretLine()</tspan><tspan x="799" dy="20">getFieldmap()</tspan><tspan x="799" dy="20">getListFieldmapNames()</tspan><tspan x="799" dy="20">deleteFieldmap()</tspan><tspan x="799" dy="20">clearDictionary()</tspan><tspan x="799" dy="20">readHeader()</tspan><tspan x="799" dy="20">readMap()</tspan><tspan x="799" dy="20">freeMap()</tspan><tspan x="799" dy="20">typeset_msg()</tspan><tspan x="799" dy="20">Fieldmap()</tspan><tspan x="799" dy="20">Fieldmap()</tspan><tspan x="799" dy="20">~Fieldmap()</tspan><tspan x="799" dy="20">getLine()</tspan><tspan x="799" dy="20">interpretLine()</tspan><tspan x="799" dy="20">interpretLine()</tspan><tspan x="799" dy="20">interpretLine()</tspan><tspan x="799" dy="20">interpretLine()</tspan><tspan x="799" dy="20">interpretLine()</tspan><tspan x="799" dy="20">interpreteEOF()</tspan><tspan x="799" dy="20">interpretWarning()</tspan><tspan x="799" dy="20">missingValuesWarning()</tspan><tspan x="799" dy="20">exceedingValuesWarning()</tspan><tspan x="799" dy="20">disableFieldmapWarning()</tspan><tspan x="799" dy="20">noFieldmapWarning()</tspan><tspan x="799" dy="20">lowResolutionWarning()</tspan><tspan x="799" dy="20">checkMap()</tspan><tspan x="799" dy="20">checkMap()</tspan><tspan x="799" dy="20">write3DField()</tspan><tspan x="799" dy="20">getLine()</tspan></text>
</g>

<g id="Component">
<rect class="b" x="546" y="3918" width="204" height="507"/>
<line class="s" x1="546" y1="3941" x2="750" y2="3941"/><line class="s" x1="546" y1="4003" x2="750" y2="4003"/>
<text class="c" x="648" y="3934">Component</text>
<text y="3956"><tspan x="554">#</tspan><tspan x="554" dy="20">#</tspan><tspan x="554" dy="20">#</tspan></text>
<text y="3956"><tspan x="570">exit_face_slope_m</tspan><tspan x="570" dy="20">online_m</tspan><tspan x="570" dy="20">defaultAperture_m</tspan></text>
<text y="4018"><tspan x="554">+</tspan><tspan x="554" dy="20">+</tspan><tspan x="554" dy="20">+</tspan><tspan x="554" dy="20">+</tspan><tspan x="554" dy="20">+</tspan><tspan x="554" dy="20">+</tspan><tspan x="554" dy="20">+</tspan><tspan x="554" dy="20">+</tspan><tspan x="554" dy="20">+</tspan><tspan x="554" dy="20">+</tspan><tspan x="554" dy="20">+</tspan><tspan x="554" dy="20">+</tspan><tspan x="554" dy="20">+</tspan><tspan x="554" dy="20">+</tspan><tspan x="554" dy="20">+</tspan><tspan x="554" dy="20">+</tspan><tspan x="554" dy="20">+</tspan><tspan x="554" dy="20">+</tspan><tspan x="554" dy="20">+</tspan><tspan x="554" dy="20">+</tspan></text>
<text y="4018"><tspan x="570">Component()</tspan><tspan x="570" dy="20">Component()</tspan><tspan x="570" dy="20">Component()</tspan><tspan x="570" dy="20">~Component()</tspan><tspan x="570" dy="20">getField()</tspan><tspan x="570" dy="20">getField()</tspan><tspan x="570" dy="20">Efield()</tspan><tspan x="570" dy="20">Bfield()</tspan><tspan x="570" dy="20">Efield()</tspan><tspan x="570" dy="20">Bfield()</tspan><tspan x="570" dy="20">EBfield()</tspan><tspan x="570" dy="20">EBfield()</tspan><tspan x="570" dy="20">apply()</tspan><tspan x="570" dy="20">apply()</tspan><tspan x="570" dy="20">apply()</tspan><tspan x="570" dy="20">applyToReferenceParticle()</tspan><tspan x="570" dy="20">getPotential()</tspan><tspan x="570" dy="20">getDesignEnergy()</tspan><tspan x="570" dy="20">setDesignEnergy()</tspan><tspan x="570" dy="20">initialise()</tspan><tspan x="570" dy="20">and 11 more...</tspan></text>
</g>

<g id="BiMap_CavityType">
<rect class="b" x="1026" y="4051" width="148" height="244"/>
<line class="s" x1="1026" y1="4091" x2="1174" y2="4091"/><line class="s" x1="1026" y1="4133" x2="1174" y2="4133"/>
<text class="c" x="1100" y="4066">BiMap&lt; CavityType,</text><text class="c" x="1100" y="4082">std::string &gt;</text>
<text y="4106"><tspan x="1044">-</tspan><tspan x="1044" dy="20">-</tspan></text>
<text y="4106"><tspan x="1070">left_map_</tspan><tspan x="1070" dy="20">right_map_</tspan></text>
<text y="4148"><tspan x="1042">+</tspan><tspan x="1042" dy="20">+</tspan><tspan x="1042" dy="20">+</tspan><tspan x="1042" dy="20">+</tspan><tspan x="1042" dy="20">+</tspan><tspan x="1042" dy="20">+</tspan><tspan x="1042" dy="20">+</tspan><tspan x="1042" dy="20">+</tspan></text>
<text y="4148"><tspan x="1070">BiMap()</tspan><tspan x="1070" dy="20">insert()</tspan><tspan x="1070" dy="20">left_find()</tspan><tspan x="1070" dy="20">right_find()</tspan><tspan x="1070" dy="20">left_end()</tspan><tspan x="1070" dy="20">right_end()</tspan><tspan x="1070" dy="20">left_at()</tspan><tspan x="1070" dy="20">right_at()</tspan></text>
</g>

<g id="RFCavity">
<rect class="b" x="810" y="4816" width="158" height="1147"/>
<line class="s" x1="810" y1="4839" x2="968" y2="4839"/><line class="s" x1="810" y1="5441" x2="968" y2="5441"/>
<text class="c" x="889" y="4832">RFCavity</text>
<text y="4854"><tspan x="817">#</tspan><tspan x="817" dy="20">#</tspan><tspan x="817" dy="20">#</tspan><tspan x="817" dy="20">#</tspan><tspan x="817" dy="20">#</tspan><tspan x="817" dy="20">#</tspan><tspan x="817" dy="20">#</tspan><tspan x="817" dy="20">#</tspan><tspan x="817" dy="20">#</tspan><tspan x="817" dy="20">#</tspan><tspan x="817" dy="20">#</tspan><tspan x="817" dy="20">#</tspan><tspan x="817" dy="20">#</tspan><tspan x="817" dy="20">#</tspan><tspan x="817" dy="20">#</tspan><tspan x="817" dy="20">#</tspan><tspan x="817" dy="20">#</tspan><tspan x="817" dy="20">-</tspan><tspan x="817" dy="20">-</tspan><tspan x="817" dy="20">-</tspan><tspan x="817" dy="20">-</tspan><tspan x="817" dy="20">-</tspan><tspan x="817" dy="20">-</tspan><tspan x="817" dy="20">-</tspan><tspan x="817" dy="20">-</tspan><tspan x="817" dy="20">-</tspan><tspan x="817" dy="20">-</tspan><tspan x="817" dy="20">-</tspan><tspan x="817" dy="20">-</tspan><tspan x="817" dy="20">-</tspan></text>
<text y="4854"><tspan x="833">phaseTD_m</tspan><tspan x="833" dy="20">phaseName_m</tspan><tspan x="833" dy="20">amplitudeTD_m</tspan><tspan x="833" dy="20">amplitudeName_m</tspan><tspan x="833" dy="20">frequencyTD_m</tspan><tspan x="833" dy="20">frequencyName_m</tspan><tspan x="833" dy="20">filename_m</tspan><tspan x="833" dy="20">scale_m</tspan><tspan x="833" dy="20">scaleError_m</tspan><tspan x="833" dy="20">phase_m</tspan><tspan x="833" dy="20">phaseError_m</tspan><tspan x="833" dy="20">frequency_m</tspan><tspan x="833" dy="20">fast_m</tspan><tspan x="833" dy="20">autophaseVeto_m</tspan><tspan x="833" dy="20">designEnergy_m</tspan><tspan x="833" dy="20">startField_m</tspan><tspan x="833" dy="20">endField_m</tspan><tspan x="833" dy="20">type_m</tspan><tspan x="833" dy="20">rmin_m</tspan><tspan x="833" dy="20">rmax_m</tspan><tspan x="833" dy="20">angle_m</tspan><tspan x="833" dy="20">sinAngle_m</tspan><tspan x="833" dy="20">cosAngle_m</tspan><tspan x="833" dy="20">pdis_m</tspan><tspan x="833" dy="20">gapwidth_m</tspan><tspan x="833" dy="20">phi0_m</tspan><tspan x="833" dy="20">RNormal_m</tspan><tspan x="833" dy="20">VrNormal_m</tspan><tspan x="833" dy="20">DvDr_m</tspan><tspan x="833" dy="20">num_points_m</tspan></text>
<text y="5456"><tspan x="817">+</tspan><tspan x="817" dy="20">+</tspan><tspan x="817" dy="20">+</tspan><tspan x="817" dy="20">+</tspan><tspan x="817" dy="20">+</tspan><tspan x="817" dy="20">+</tspan><tspan x="817" dy="20">+</tspan><tspan x="817" dy="20">+</tspan><tspan x="817" dy="20">+</tspan><tspan x="817" dy="20">+</tspan><tspan x="817" dy="20">+</tspan><tspan x="817" dy="20">+</tspan><tspan x="817" dy="20">+</tspan><tspan x="817" dy="20">+</tspan><tspan x="817" dy="20">+</tspan><tspan x="817" dy="20">+</tspan><tspan x="817" dy="20">+</tspan><tspan x="817" dy="20">+</tspan><tspan x="817" dy="20">+</tspan><tspan x="817" dy="20">+</tspan><tspan x="817" dy="40">-</tspan><tspan x="817" dy="20">-</tspan><tspan x="817" dy="20">-</tspan><tspan x="817" dy="20">-</tspan><tspan x="817" dy="20">-</tspan></text>
<text y="5456"><tspan x="833">RFCavity()</tspan><tspan x="833" dy="20">RFCavity()</tspan><tspan x="833" dy="20">RFCavity()</tspan><tspan x="833" dy="20">~RFCavity()</tspan><tspan x="833" dy="20">accept()</tspan><tspan x="833" dy="20">getAmplitude()</tspan><tspan x="833" dy="20">getFrequency()</tspan><tspan x="833" dy="20">setFrequency()</tspan><tspan x="833" dy="20">getPhase()</tspan><tspan x="833" dy="20">dropFieldmaps()</tspan><tspan x="833" dy="20">setFieldMapFN()</tspan><tspan x="833" dy="20">getFieldMapFN()</tspan><tspan x="833" dy="20">setAmplitudem()</tspan><tspan x="833" dy="20">getAmplitudem()</tspan><tspan x="833" dy="20">setAmplitudeError()</tspan><tspan x="833" dy="20">getAmplitudeError()</tspan><tspan x="833" dy="20">setFrequencym()</tspan><tspan x="833" dy="20">getFrequencym()</tspan><tspan x="833" dy="20">setPhasem()</tspan><tspan x="833" dy="20">getPhasem()</tspan><tspan x="833" dy="20">and 58 more...</tspan><tspan x="833" dy="20">getdE()</tspan><tspan x="833" dy="20">getdT()</tspan><tspan x="833" dy="20">getdA()</tspan><tspan x="833" dy="20">getdB()</tspan><tspan x="833" dy="20">operator=()</tspan></text>
</g>

<g id="TravelingWave">
<rect class="g" x="784" y="6011" width="204" height="927"/>
<line class="s" x1="784" y1="6034" x2="988" y2="6034"/><line class="s" x1="784" y1="6276" x2="988" y2="6276"/>
<text class="c" x="886" y="6027">TravelingWave</text>
<text y="6049"><tspan x="792">-</tspan><tspan x="792" dy="20">-</tspan><tspan x="792" dy="20">-</tspan><tspan x="792" dy="20">-</tspan><tspan x="792" dy="20">-</tspan><tspan x="792" dy="20">-</tspan><tspan x="792" dy="20">-</tspan><tspan x="792" dy="20">-</tspan><tspan x="792" dy="20">-</tspan><tspan x="792" dy="20">-</tspan><tspan x="792" dy="20">-</tspan><tspan x="792" dy="20">-</tspan></text>
<text y="6049"><tspan x="808">scaleCore_m</tspan><tspan x="808" dy="20">scaleCoreError_m</tspan><tspan x="808" dy="20">phaseCore1_m</tspan><tspan x="808" dy="20">phaseCore2_m</tspan><tspan x="808" dy="20">phaseExit_m</tspan><tspan x="808" dy="20">startCoreField_m</tspan><tspan x="808" dy="20">startExitField_m</tspan><tspan x="808" dy="20">mappedStartExitField_m</tspan><tspan x="808" dy="20">periodLength_m</tspan><tspan x="808" dy="20">numCells_m</tspan><tspan x="808" dy="20">cellLength_m</tspan><tspan x="808" dy="20">mode_m</tspan></text>
<text y="6291"><tspan x="792">+</tspan><tspan x="792" dy="20">+</tspan><tspan x="792" dy="20">+</tspan><tspan x="792" dy="20">+</tspan><tspan x="792" dy="20">+</tspan><tspan x="792" dy="20">+</tspan><tspan x="792" dy="20">+</tspan><tspan x="792" dy="20">+</tspan><tspan x="792" dy="20">+</tspan><tspan x="792" dy="20">+</tspan><tspan x="792" dy="20">+</tspan><tspan x="792" dy="20">+</tspan><tspan x="792" dy="20">+</tspan><tspan x="792" dy="20">+</tspan><tspan x="792" dy="20">+</tspan><tspan x="792" dy="20">+</tspan><tspan x="792" dy="20">+</tspan><tspan x="792" dy="20">+</tspan><tspan x="792" dy="20">+</tspan><tspan x="792" dy="20">+</tspan><tspan x="792" dy="20">+</tspan><tspan x="792" dy="20">+</tspan><tspan x="792" dy="20">+</tspan><tspan x="792" dy="20">+</tspan><tspan x="792" dy="20">+</tspan><tspan x="792" dy="20">+</tspan><tspan x="792" dy="20">+</tspan><tspan x="792" dy="20">+</tspan><tspan x="792" dy="20">-</tspan><tspan x="792" dy="20">-</tspan><tspan x="792" dy="20">-</tspan><tspan x="792" dy="20">-</tspan><tspan x="792" dy="20">-</tspan></text>
<text y="6291"><tspan x="808">TravelingWave()</tspan><tspan x="808" dy="20">TravelingWave()</tspan><tspan x="808" dy="20">TravelingWave()</tspan><tspan x="808" dy="20">~TravelingWave()</tspan><tspan x="808" dy="20">accept()</tspan><tspan x="808" dy="20">getAmplitude()</tspan><tspan x="808" dy="20">getFrequency()</tspan><tspan x="808" dy="20">getPhase()</tspan><tspan x="808" dy="20">setPhasem()</tspan><tspan x="808" dy="20">setNumCells()</tspan><tspan x="808" dy="20">setMode()</tspan><tspan x="808" dy="20">getAutoPhaseEstimate()</tspan><tspan x="808" dy="20">apply()</tspan><tspan x="808" dy="20">apply()</tspan><tspan x="808" dy="20">apply()</tspan><tspan x="808" dy="20">applyToReferenceParticle()</tspan><tspan x="808" dy="20">initialise()</tspan><tspan x="808" dy="20">initialise()</tspan><tspan x="808" dy="20">finalise()</tspan><tspan x="808" dy="20">bends()</tspan><tspan x="808" dy="20">goOnline()</tspan><tspan x="808" dy="20">goOffline()</tspan><tspan x="808" dy="20">getType()</tspan><tspan x="808" dy="20">getFieldExtend()</tspan><tspan x="808" dy="20">isInside()</tspan><tspan x="808" dy="20">getElementDimensions()</tspan><tspan x="808" dy="20">getEdgeToBegin()</tspan><tspan x="808" dy="20">getEdgeToEnd()</tspan><tspan x="808" dy="20">getdE()</tspan><tspan x="808" dy="20">getdT()</tspan><tspan x="808" dy="20">getdA()</tspan><tspan x="808" dy="20">getdB()</tspan><tspan x="808" dy="20">operator=()</tspan></text>
</g>
</svg>
